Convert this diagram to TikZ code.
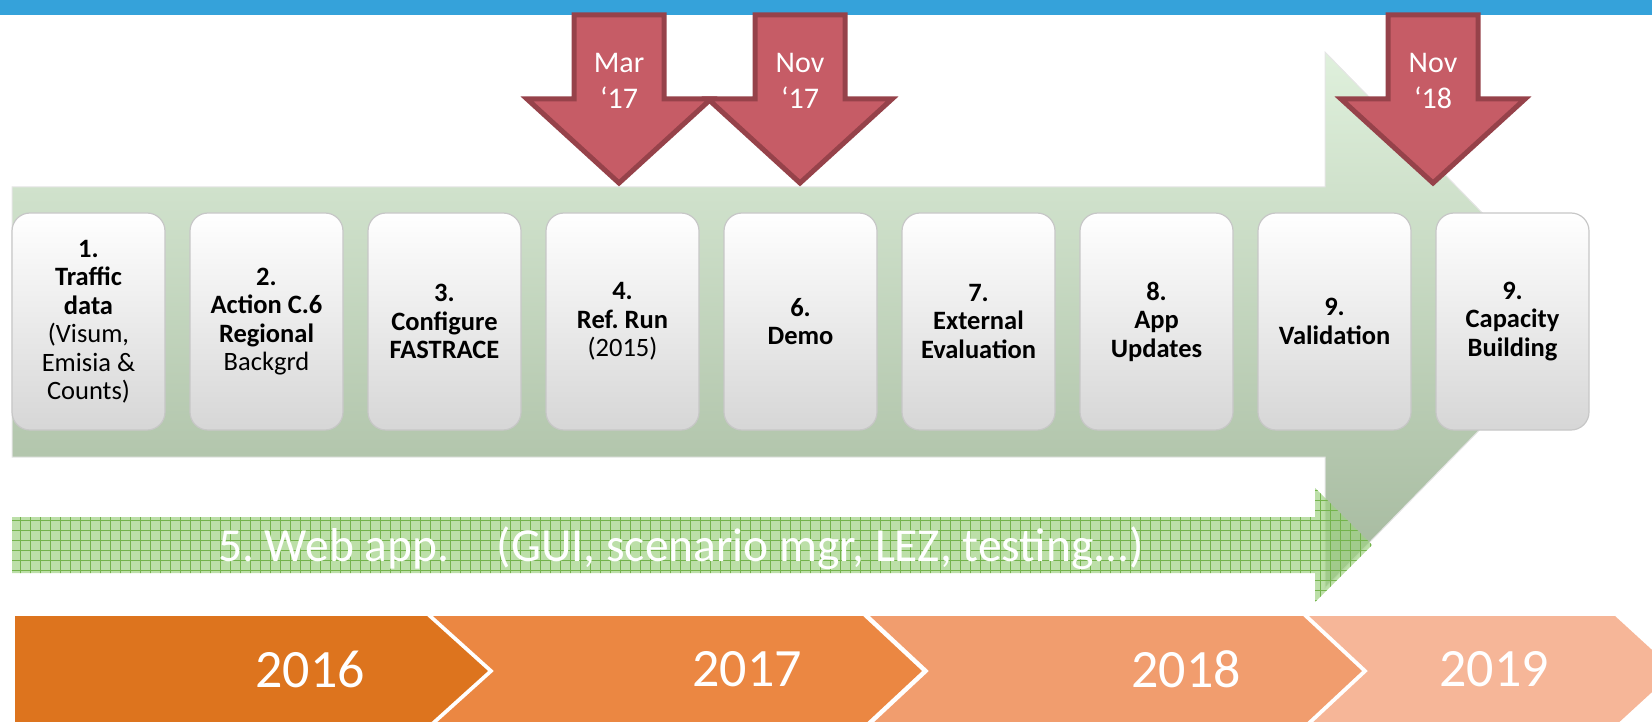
\documentclass[tikz,border=0pt]{standalone}
\usepackage{fontspec}
\setmainfont{Carlito}
\usetikzlibrary{positioning}

\definecolor{topbar}{HTML}{35A2DA}
\definecolor{milefill}{HTML}{C65C66}
\definecolor{mileedge}{HTML}{96424A}
\definecolor{flowtop}{HTML}{DFF0DC}
\definecolor{flowbottom}{HTML}{A4B89D}
\definecolor{webfill}{HTML}{9FD283}
\definecolor{webgrid}{HTML}{74B34C}
\definecolor{year16}{HTML}{DD741E}
\definecolor{year17}{HTML}{EB8742}
\definecolor{year18}{HTML}{F19D6E}
\definecolor{year19}{HTML}{F6B698}

\begin{document}
\frenchspacing
\begin{tikzpicture}[x=1pt,y=-1pt,
    node distance=25pt,
    task/.style={rectangle,rounded corners=18pt,draw=black!22,line width=1.2pt,
        top color=white,bottom color=black!16,outer sep=0pt,inner sep=0pt,
        minimum width=153pt,minimum height=217pt,align=center,
        font=\fontsize{26.5}{28.5}\selectfont},
    milestone/.style={fill=milefill,draw=mileedge,line width=5pt,line join=miter},
    mile label/.style={text=white,align=center,font=\fontsize{30}{36}\selectfont},
    year/.style={text=white,inner sep=0pt,font=\fontsize{54}{60}\selectfont}
]
 \useasboundingbox (0,0) rectangle (1652,722);
 \clip (0,0) rectangle (1652,722);

 % top bar
 \fill[topbar] (0,0) rectangle (1652,15);

 % main flow arrow
 \path[top color=flowtop,bottom color=flowbottom,draw=black!10,line width=1pt]
    (12,187) -- (1325,187) -- (1325,52) -- (1587,320) -- (1325,588)
    -- (1325,457) -- (12,457) -- cycle;

 % tasks
 \node[task] (traffic) at (88.5,321.5)
    {\textbf{1.}\\\textbf{Traffic}\\\textbf{data}\\(Visum,\\Emisia \&\\Counts)};
 \node[task] (action) [right=of traffic]
    {\textbf{2.}\\\textbf{Action C.6}\\\textbf{Regional}\\Backgrd};
 \node[task] (configure) [right=of action]
    {\textbf{3.}\\\textbf{Configure}\\\textbf{FASTRACE}};
 \node[task] (refrun) [right=of configure]
    {\textbf{4.}\\\textbf{Ref. Run}\\(2015)};
 \node[task] (demo) [right=of refrun] {\textbf{6.}\\\textbf{Demo}};
 \node[task] (evaluation) [right=of demo]
    {\textbf{7.}\\\textbf{External}\\\textbf{Evaluation}};
 \node[task] (updates) [right=of evaluation]
    {\textbf{8.}\\\textbf{App}\\\textbf{Updates}};
 \node[task] (validation) [right=of updates] {\textbf{9.}\\\textbf{Validation}};
 \node[task] (capacity) [right=of validation]
    {\textbf{9.}\\\textbf{Capacity}\\\textbf{Building}};

 % web app arrow
 \path[fill=webfill,fill opacity=.7]
    (12,517) -- (1315,517) -- (1315,488) -- (1372,545) -- (1315,602)
    -- (1315,573) -- (12,573) -- cycle;
 \begin{scope}
  \clip (12,517) -- (1315,517) -- (1315,488) -- (1372,545) -- (1315,602)
    -- (1315,573) -- (12,573) -- cycle;
  \draw[webgrid,line width=.6pt,step=10pt] (0,480) grid (1380,610);
 \end{scope}
 \node[anchor=base west,inner sep=0pt,text=white,font=\fontsize{47.5}{50}\selectfont]
    (webapp) at (218,561) {5. Web app.\hspace{1em}(GUI, scenario mgr, LEZ, testing...)};

 % milestones
 \foreach \cx/\name/\mon/\yr in {619/mar17/Mar/‘17,800/nov17/Nov/‘17,1433/nov18/Nov/‘18}{
   \draw[milestone] (\cx-45,15) -- (\cx+45,15) -- (\cx+45,99) -- (\cx+92,99)
      -- (\cx,183) -- (\cx-92,99) -- (\cx-45,99) -- cycle;
   \node[mile label] (\name) at (\cx,81) {\mon\\\yr};
 }

 % years
 \fill[year16] (15,616) -- (427,616) -- (488,671) -- (427,726) -- (15,726) -- cycle;
 \fill[year17] (433,616) -- (863,616) -- (922,671) -- (863,726) -- (433,726)
    -- (494,671) -- cycle;
 \fill[year18] (870,616) -- (1303,616) -- (1362,671) -- (1303,726) -- (870,726)
    -- (929,671) -- cycle;
 \fill[year19] (1309,616) -- (1615,616) -- (1675,671) -- (1615,726) -- (1309,726)
    -- (1368,671) -- cycle;
 \node[year] (y2016) at (310,669) {2016};
 \node[year] (y2017) at (747,669) {2017};
 \node[year] (y2018) at (1186,669) {2018};
 \node[year] (y2019) at (1494,669) {2019};
\end{tikzpicture}
\end{document}
